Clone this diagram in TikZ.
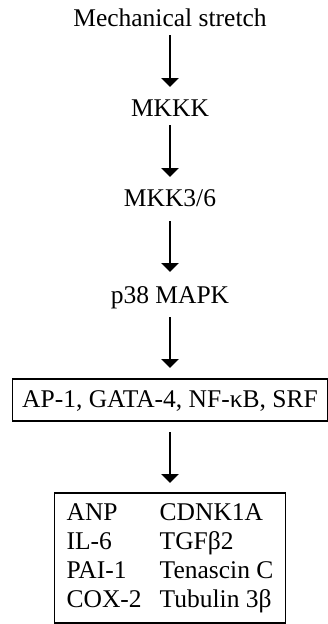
\documentclass[tikz,border=0pt]{standalone}
\usepackage{fontspec}
\setmainfont{Liberation Serif}
\usetikzlibrary{arrows.meta, positioning}

\begin{document}
\begin{tikzpicture}[x=1pt,y=1pt,
 every node/.style={font=\fontsize{25.5}{29}\selectfont, inner sep=0pt, outer sep=0pt},
 plain node/.style={text height=17pt, text depth=6pt},
 box node/.style={draw, line width=1.6pt},
 path arrow/.style={line width=2.7pt, -{Triangle[width=17pt,length=9pt]}}]

  \useasboundingbox (0,0) rectangle (328,-624);

  \node[plain node, anchor=north] (ms) at (170,-9) {Mechanical stretch};
  \node[plain node] (mkkk) [below=67pt of ms] {MKKK};
  \node[plain node] (mkk) [below=67pt of mkkk] {MKK3/6};
  \node[plain node] (p38) [below=74pt of mkk] {p38 MAPK};
  \node[box node, plain node, text height=19pt, text depth=5pt, inner ysep=9pt,
   minimum width=315pt] (tf) [below=70pt of p38] {AP-1, GATA-4, NF-κB, SRF};
  \node[box node, inner xsep=10pt, inner ysep=7pt, minimum width=231pt] (genes) [below=72pt of tf]
   {\begin{tabular}{@{}l@{\hspace{18pt}}l@{}}
     ANP & CDNK1A\\
     IL-6 & TGFβ2\\
     PAI-1 & Tenascin C\\
     COX-2 & Tubulin 3β
    \end{tabular}};

  \foreach \s/\t/\a/\b in {ms/mkkk/3/12, mkkk/mkk/3/12, mkk/p38/9/14, p38/tf/8/11, tf/genes/11/10} {
   \draw[path arrow, shorten <=\a pt, shorten >=\b pt] (\s) -- (\t);}

\end{tikzpicture}
\end{document}
